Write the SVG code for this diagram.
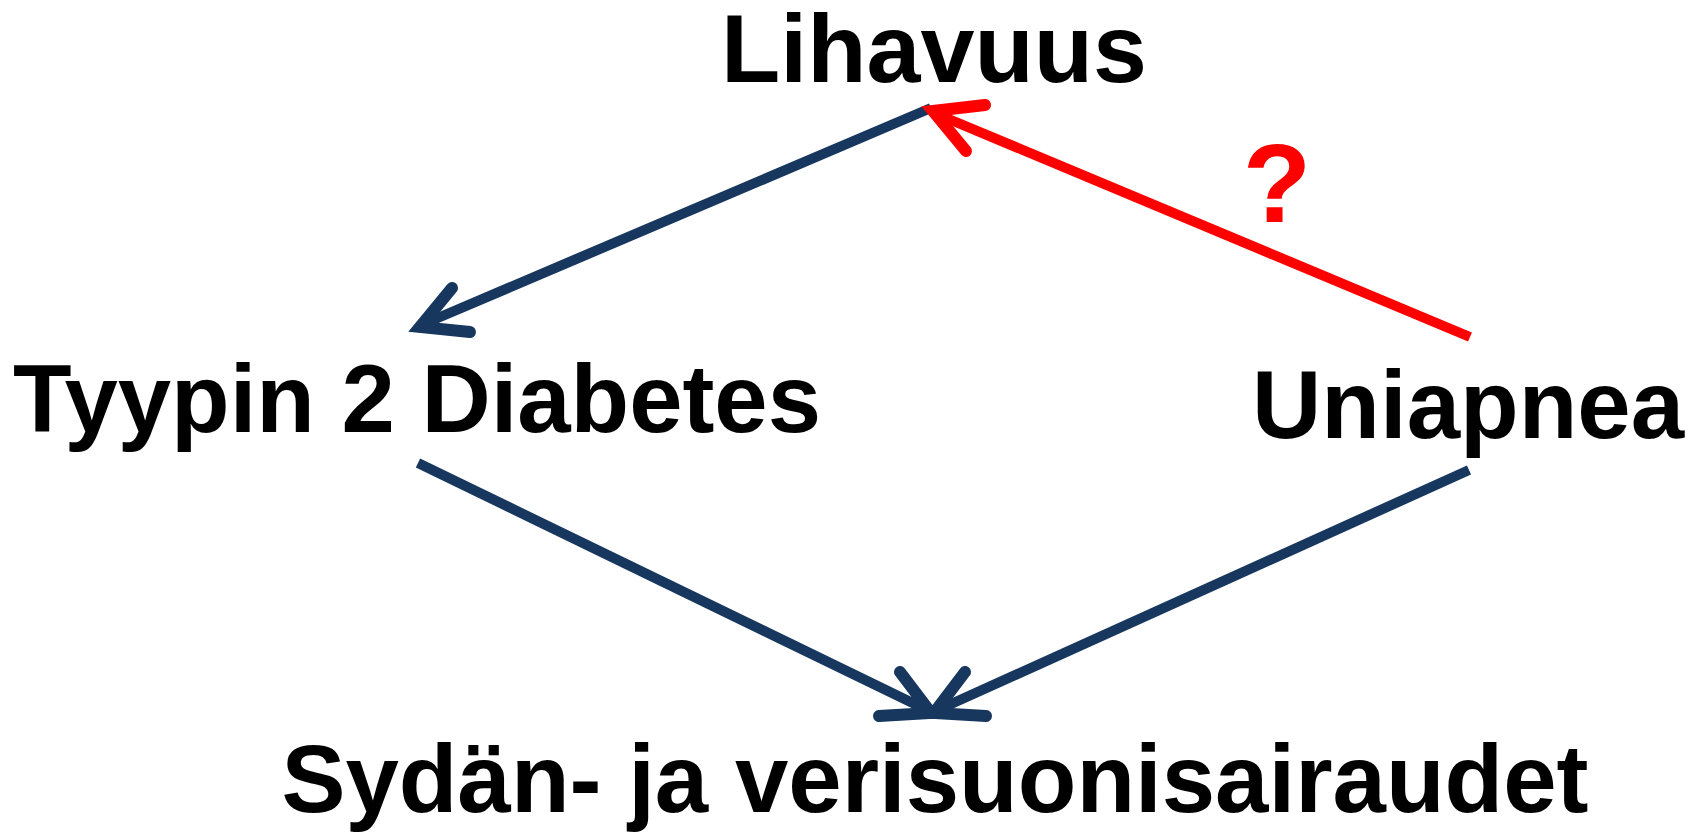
<svg xmlns="http://www.w3.org/2000/svg" width="1697" height="836" viewBox="0 0 1697 836">
<style>
.lbl{font-family:"Liberation Sans",Arial,sans-serif;font-weight:bold;fill:#000;}
.blue{stroke:#17375E;stroke-width:10;fill:none;}
.red{stroke:#FF0000;stroke-width:10;fill:none;}
.head{stroke-width:12;stroke-linecap:round;stroke-linejoin:miter;stroke-miterlimit:10;}
</style>
<rect width="1697" height="836" fill="#fff"/>
<g id="connectors">
<line class="blue" x1="931" y1="108" x2="426" y2="323"/>
<polyline class="blue head" points="452,288 420,327 470,332"/>
<line class="red" x1="1470" y1="337" x2="939" y2="115"/>
<polyline class="red head" points="966,151 933,111 985,105"/>
<line class="blue" x1="418" y1="463" x2="925" y2="709"/>
<polyline class="blue head" points="900,672 931,713 879,716"/>
<line class="blue" x1="1469" y1="470" x2="940" y2="709"/>
<polyline class="blue head" points="965,672 934,713 986,716"/>
<text class="lbl" x="1277" y="222" font-size="112" text-anchor="middle" style="fill:#FF0000">?</text>
</g>
<g id="lihavuus"><text class="lbl" x="934" y="82" font-size="97" text-anchor="middle">Lihavuus</text></g>
<g id="diabetes"><text class="lbl" x="13" y="432" font-size="96" textLength="808" lengthAdjust="spacingAndGlyphs">Tyypin 2 Diabetes</text></g>
<g id="uniapnea"><text class="lbl" x="1252" y="438" font-size="96">Uniapnea</text></g>
<g id="sydan"><text class="lbl" x="935" y="812" font-size="96" text-anchor="middle">Sydän- ja verisuonisairaudet</text></g>
</svg>
